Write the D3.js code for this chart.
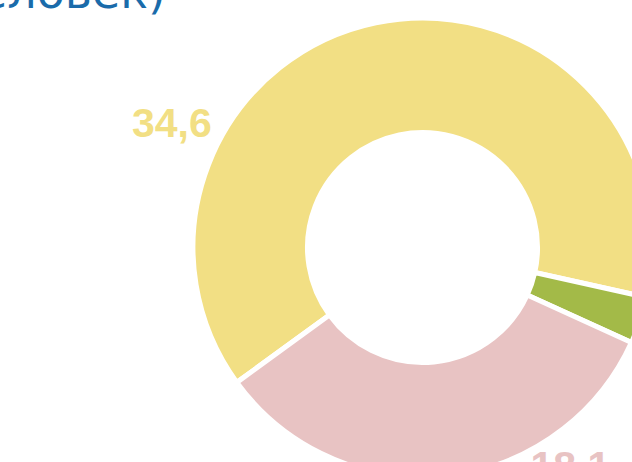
<!DOCTYPE html>
<html>
<head>
<meta charset="utf-8">
<script src="https://cdn.jsdelivr.net/npm/d3@7"></script>
<style>
  html, body { margin: 0; padding: 0; background: #fff; overflow: hidden; }
  svg { display: block; }
</style>
</head>
<body>
<svg id="chart" width="632" height="462"></svg>
<script>
const categories = ["Группа A", "Группа B", "Группа C"];
const values = [34.6, 1.8, 18.1];
const labels = ["34,6", "1,8", "18,1"];
const colors = ["#F2DF84", "#A3BA48", "#E8C3C3"];
const titleText = "Численность (млн человек)";

const svg = d3.select("#chart");
const cx = 422.5, cy = 247.5;
const outerR = 229.5, innerR = 115;
const startDeg = -126;

const pie = d3.pie().sort(null).value(d => d.v)
  .startAngle(startDeg * Math.PI / 180)
  .endAngle((startDeg + 360) * Math.PI / 180);
const data = categories.map((c, i) => ({ c, v: values[i], label: labels[i], color: colors[i] }));
const arcs = pie(data);
const arc = d3.arc().innerRadius(innerR).outerRadius(outerR);

const g = svg.append("g").attr("transform", `translate(${cx},${cy})`);
g.selectAll("path").data(arcs).join("path")
  .attr("d", arc)
  .attr("fill", d => d.data.color)
  .attr("stroke", "#fff")
  .attr("stroke-width", 5)
  .attr("stroke-linejoin", "miter");

// value labels (placed outside the ring)
const labelPos = [[-290.5, -110.5], [300, 90], [108, 232]];
g.selectAll("text.val").data(arcs).join("text")
  .attr("class", "val")
  .attr("x", (d, i) => labelPos[i][0])
  .attr("y", (d, i) => labelPos[i][1])
  .attr("font-family", "Liberation Sans, Arial, sans-serif")
  .attr("font-weight", "bold")
  .attr("font-size", 41)
  .attr("fill", d => d.data.color)
  .text(d => d.data.label);

svg.append("text")
  .attr("x", 166)
  .attr("y", 7.5)
  .attr("text-anchor", "end")
  .attr("font-family", "DejaVu Sans, sans-serif")
  .attr("font-size", 46)
  .attr("fill", "#1A6BAA")
  .text(titleText);
</script>
</body>
</html>
